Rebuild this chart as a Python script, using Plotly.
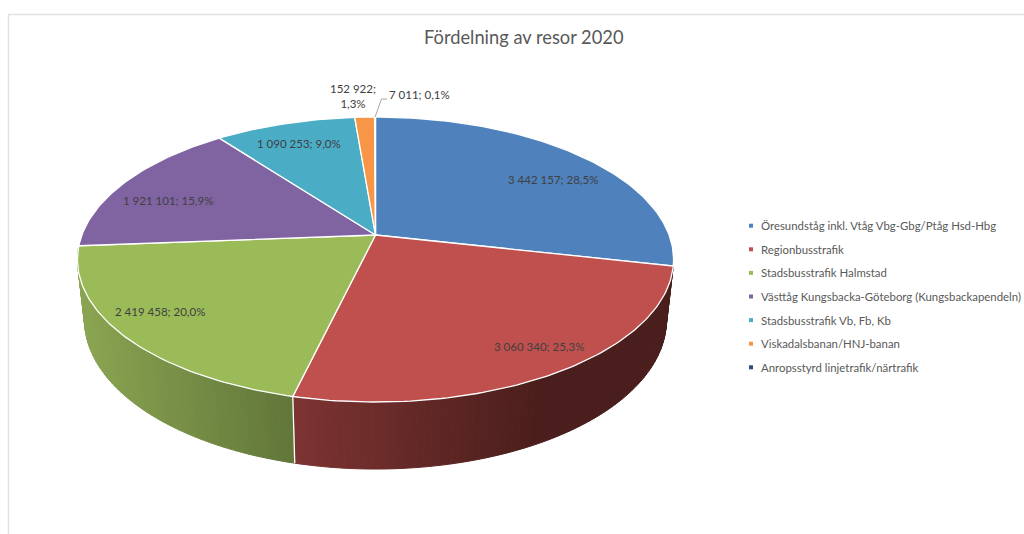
import numpy as np
import plotly.graph_objects as go

title = 'Fördelning av resor 2020'
categories = ['Öresundståg inkl. Vtåg Vbg-Gbg/Ptåg Hsd-Hbg', 'Regionbusstrafik', 'Stadsbusstrafik Halmstad',
              'Västtåg Kungsbacka-Göteborg (Kungsbackapendeln)', 'Stadsbusstrafik Vb, Fb, Kb',
              'Viskadalsbanan/HNJ-banan', 'Anropsstyrd linjetrafik/närtrafik']
values = [3442157, 3060340, 2419458, 1921101, 1090253, 152922, 7011]
colors = ['#4f81bd', '#c0504d', '#9bbb59', '#8064a2', '#4bacc6', '#f79646', '#2c4d75']

# where the data labels sit (px), and the wall colours left -> right of each visible slice
label_x = [553, 539, 160, 168, 299, 353, 419]
label_y = [179, 346, 311, 200, 143, 96, 94]
wall_shade = {1: ('#7e3432', '#4a1e1c'), 2: ('#8ba652', '#62773a')}

# perspective of the tilted disc, pixels
cx, cy_top, cy_bot = 375.5, 235, 294.4
ax_top, ay_top = 293.6, 138.3
ax_bot, ay_bot = 286.6, 144.6
k = 0.172

total = sum(values)
shares = np.array(values) / total
edges = np.concatenate([[0], np.cumsum(shares)]) * 2 * np.pi


def top_xy(t):
    w = 1 + k * np.cos(t)
    return cx + ax_top * np.sin(t) / w, cy_top - ay_top * np.cos(t) / w


def bot_xy(t):
    w = 1 + k * np.cos(t)
    return cx + ax_bot * np.sin(t) / w, cy_bot - ay_bot * np.cos(t) / w


def mix(c1, c2, f):
    a = [int(c1[i:i + 2], 16) for i in (1, 3, 5)]
    b = [int(c2[i:i + 2], 16) for i in (1, 3, 5)]
    return 'rgb(%d,%d,%d)' % tuple(a[i] + (b[i] - a[i]) * f for i in range(3))


def fmt(n):
    return f'{n:,}'.replace(',', ' ')


traces = []

# side wall, cut into thin strips so it can carry a gradient
for i, (left, right) in wall_shade.items():
    n = int((edges[i + 1] - edges[i]) / np.radians(1.2)) + 1
    ts = np.linspace(edges[i], edges[i + 1], n + 1)
    xs0, _ = top_xy(ts)
    for j in range(n):
        x0, y0 = top_xy(ts[j:j + 2])
        x1, y1 = bot_xy(ts[j:j + 2])
        f = (xs0[j] - xs0.min()) / (xs0.max() - xs0.min())
        if i == 1:
            f = min(f * 1.5, 1)
        c = mix(left, right, f)
        traces.append(go.Scatter(x=list(x0) + list(x1[::-1]) + [x0[0]], y=list(y0) + list(y1[::-1]) + [y0[0]],
                                 mode='lines', fill='toself', fillcolor=c, line=dict(color=c, width=1),
                                 hoverinfo='skip', showlegend=False))

# white seam between the two walls
x0, y0 = top_xy(edges[2])
x1, y1 = bot_xy(edges[2])
traces.append(go.Scatter(x=[x0, x1], y=[y0, y1], mode='lines', line=dict(color='white', width=1.3),
                         hoverinfo='skip', showlegend=False))

# top of the pie
for i, c in enumerate(colors):
    ts = np.linspace(edges[i], edges[i + 1], max(3, int(shares[i] * 360)))
    x, y = top_xy(ts)
    traces.append(go.Scatter(x=[cx] + list(x) + [cx], y=[cy_top] + list(y) + [cy_top],
                             mode='lines', fill='toself', fillcolor=c, line=dict(color='white', width=1.3),
                             name=categories[i], hoverinfo='name', showlegend=False))

# leader line of the smallest slice
lead_t = (edges[6] + edges[7]) / 2
lead_x, lead_y = top_xy(lead_t)
traces.append(go.Scatter(x=[lead_x, 381.5, 387], y=[lead_y, 99, 99], mode='lines',
                         line=dict(color='#a6a6a6', width=1), hoverinfo='skip', showlegend=False))

# legend
legend_y = 225.7 + 23.6 * np.arange(len(categories))
traces.append(go.Scatter(x=[751] * len(categories), y=legend_y, mode='markers',
                         marker=dict(symbol='square', size=4, color=colors),
                         hoverinfo='skip', showlegend=False))

annotations = [dict(text=title, x=524, y=37, showarrow=False, font=dict(size=18.3, color='#595959'))]
for i, v in enumerate(values):
    pct = f'{shares[i] * 100:.1f}'.replace('.', ',')
    sep = ';<br>' if i == 5 else '; '
    annotations.append(dict(text=f'{fmt(v)}{sep}{pct}%', x=label_x[i], y=label_y[i], showarrow=False,
                            font=dict(size=11.5, color='#404040')))
for name, yy in zip(categories, legend_y):
    annotations.append(dict(text=name, x=758.5, y=yy, xanchor='left', showarrow=False,
                            font=dict(size=11.4, color='#595959')))

layout = go.Layout(
    width=1024, height=534,
    margin=dict(l=0, r=0, t=0, b=0),
    paper_bgcolor='white', plot_bgcolor='white',
    font=dict(family='Lato'),
    xaxis=dict(range=[0, 1024], visible=False, fixedrange=True),
    yaxis=dict(range=[534, 0], visible=False, fixedrange=True),
    annotations=annotations,
    shapes=[dict(type='line', xref='x', yref='y', x0=8, y0=14.5, x1=1024, y1=14.5, line=dict(color='#e3e3e3', width=1.5)),
            dict(type='line', xref='x', yref='y', x0=8.5, y0=14.5, x1=8.5, y1=534, line=dict(color='#e3e3e3', width=1.5))],
)

fig = go.Figure(data=traces, layout=layout)
fig.write_html('out.html', config=dict(displayModeBar=False),
               post_script="document.body.style.margin='0';document.body.style.overflow='hidden';")
